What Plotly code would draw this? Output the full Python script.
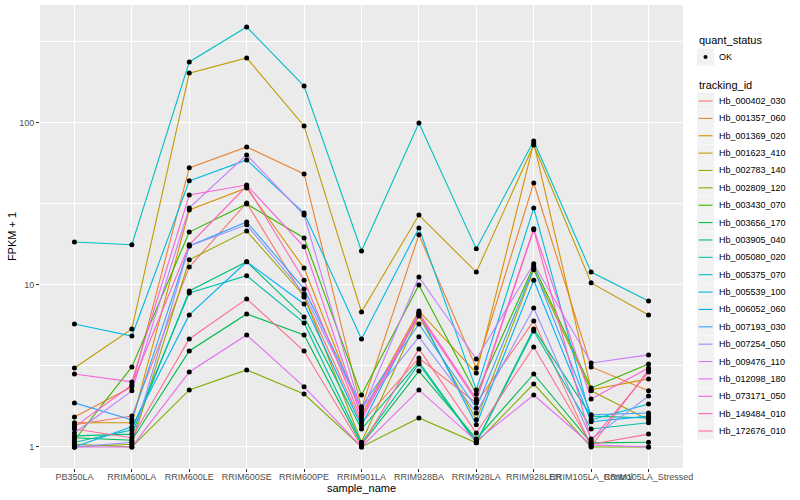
import plotly.graph_objects as go

samples = ["PB350LA", "RRIM600LA", "RRIM600LE", "RRIM600SE", "RRIM600PE", "RRIM901LA",
           "RRIM928BA", "RRIM928LA", "RRIM928LER", "RRIM105LA_Control", "RRIM105LA_Stressed"]

tracking_ids = ["Hb_000402_030", "Hb_001357_060", "Hb_001369_020", "Hb_001623_410", "Hb_002783_140",
                "Hb_002809_120", "Hb_003430_070", "Hb_003656_170", "Hb_003905_040", "Hb_005080_020",
                "Hb_005375_070", "Hb_005539_100", "Hb_006052_060", "Hb_007193_030", "Hb_007254_050",
                "Hb_009476_110", "Hb_012098_180", "Hb_073171_050", "Hb_149484_010", "Hb_172676_010"]

colors = ["#F8766D", "#EA8331", "#D89000", "#C09B00", "#A3A500", "#7CAE00", "#39B600", "#00BB4E",
          "#00BF7D", "#00C1A3", "#00BFC4", "#00BAE0", "#00B0F6", "#35A2FF", "#9590FF", "#C77CFF",
          "#E76BF3", "#FA62DB", "#FF62BC", "#FF6C91"]

# FPKM + 1 per tracking id, one value per sample
Hb_000402_030 = [1.37, 1.55, 12.9, 32.1, 8.43, 1.41, 3.54, 1.87, 6.00, 1.01, 2.99]
Hb_001357_060 = [1.53, 2.35, 52.8, 71.1, 48.4, 1.74, 20.4, 3.07, 42.6, 3.12, 2.22]
Hb_001369_020 = [1.41, 1.41, 29.0, 39.7, 12.7, 1.58, 6.91, 2.86, 75.2, 2.25, 2.63]
Hb_001623_410 = [3.07, 5.35, 203, 252, 95.8, 6.81, 27.0, 12.0, 73.1, 10.3, 6.53]
Hb_002783_140 = [1.00, 1.04, 14.3, 21.5, 8.55, 1.07, 6.44, 1.47, 12.4, 2.22, 1.47]
Hb_002809_120 = [1.04, 1.00, 2.25, 2.99, 2.12, 1.00, 1.51, 1.06, 2.45, 1.00, 1.00]
Hb_003430_070 = [1.10, 3.12, 21.2, 31.6, 19.5, 2.09, 10.0, 2.12, 13.1, 2.31, 3.25]
Hb_003656_170 = [1.14, 1.10, 3.91, 6.62, 4.91, 1.03, 2.94, 1.12, 2.82, 1.06, 1.07]
Hb_003905_040 = [1.17, 1.20, 9.18, 13.9, 6.35, 1.29, 3.35, 1.07, 5.35, 1.55, 1.51]
Hb_005080_020 = [1.07, 1.27, 8.92, 11.4, 5.83, 1.06, 3.25, 1.06, 5.20, 1.29, 1.41]
Hb_005375_070 = [18.4, 17.7, 238, 391, 169, 16.2, 100, 16.7, 77.4, 12.0, 7.97]
Hb_005539_100 = [5.74, 4.84, 43.9, 59.1, 27.8, 4.64, 22.5, 2.25, 29.9, 1.47, 1.84]
Hb_006052_060 = [1.00, 1.33, 6.53, 13.9, 7.63, 1.35, 6.72, 1.37, 10.7, 1.43, 1.55]
Hb_007193_030 = [1.87, 1.47, 17.4, 24.5, 9.45, 1.77, 5.74, 1.74, 12.7, 1.58, 1.62]
Hb_007254_050 = [1.00, 1.07, 17.4, 23.5, 8.80, 1.72, 4.78, 1.62, 7.21, 1.12, 2.06]
Hb_009476_110 = [1.22, 2.22, 29.9, 63.5, 27.0, 1.64, 11.2, 3.49, 13.5, 3.30, 3.70]
Hb_012098_180 = [1.00, 1.00, 2.90, 4.91, 2.35, 1.00, 2.25, 1.09, 2.09, 1.03, 1.00]
Hb_073171_050 = [2.82, 2.52, 35.9, 41.4, 17.2, 1.53, 6.72, 1.98, 22.2, 1.98, 3.07]
Hb_149484_010 = [1.33, 2.41, 17.7, 40.8, 10.7, 1.47, 6.53, 1.92, 21.9, 1.09, 2.90]
Hb_172676_010 = [1.29, 1.14, 4.64, 8.20, 3.91, 1.01, 4.03, 1.22, 4.14, 1.04, 1.20]

series = [Hb_000402_030, Hb_001357_060, Hb_001369_020, Hb_001623_410, Hb_002783_140,
          Hb_002809_120, Hb_003430_070, Hb_003656_170, Hb_003905_040, Hb_005080_020,
          Hb_005375_070, Hb_005539_100, Hb_006052_060, Hb_007193_030, Hb_007254_050,
          Hb_009476_110, Hb_012098_180, Hb_073171_050, Hb_149484_010, Hb_172676_010]

W, H = 800, 500
ML, MR, MT, MB = 40, 117, 5, 32
PW, PH = W - ML - MR, H - MT - MB


def px(x):
    return (x - ML) / PW


def py(y):
    return (H - MB - y) / PH


fig = go.Figure()
for name, vals, col in zip(tracking_ids, series, colors):
    fig.add_trace(go.Scatter(x=samples, y=vals, mode="lines", name=name,
                             line=dict(color=col, width=1.1), showlegend=False))

all_x = [s for vals in series for s in samples]
all_y = [v for vals in series for v in vals]
fig.add_trace(go.Scatter(x=all_x, y=all_y, mode="markers", name="OK",
                         marker=dict(color="black", size=5, symbol="circle"), showlegend=False))

# manual ggplot-style legends
shapes = []
annotations = []
annotations.append(dict(text="quant_status", x=px(697), y=py(40), xref="paper", yref="paper",
                        xanchor="left", yanchor="middle", showarrow=False,
                        font=dict(size=11, color="black")))
shapes.append(dict(type="rect", xref="paper", yref="paper", x0=px(697), x1=px(714),
                   y0=py(48.5), y1=py(65.5), fillcolor="#F2F2F2", line=dict(width=0), layer="below"))
shapes.append(dict(type="circle", xref="paper", yref="paper", x0=px(703.5), x1=px(707.5),
                   y0=py(55), y1=py(59), fillcolor="black", line=dict(width=0)))
annotations.append(dict(text="OK", x=px(717), y=py(57), xref="paper", yref="paper",
                        xanchor="left", yanchor="middle", showarrow=False,
                        font=dict(size=9, color="black")))
annotations.append(dict(text="tracking_id", x=px(697), y=py(85), xref="paper", yref="paper",
                        xanchor="left", yanchor="middle", showarrow=False,
                        font=dict(size=11, color="black")))
for i, (name, col) in enumerate(zip(tracking_ids, colors)):
    yc = 101 + i * 17.37
    shapes.append(dict(type="rect", xref="paper", yref="paper", x0=px(697), x1=px(714),
                       y0=py(yc - 8.5), y1=py(yc + 8.5), fillcolor="#F2F2F2",
                       line=dict(width=0), layer="below"))
    shapes.append(dict(type="line", xref="paper", yref="paper", x0=px(698.5), x1=px(712.5),
                       y0=py(yc), y1=py(yc), line=dict(color=col, width=1.1)))
    annotations.append(dict(text=name, x=px(717), y=py(yc), xref="paper", yref="paper",
                            xanchor="left", yanchor="middle", showarrow=False,
                            font=dict(size=9, color="black")))

fig.update_layout(
    width=W, height=H,
    margin=dict(l=ML, r=MR, t=MT, b=MB, autoexpand=False),
    paper_bgcolor="white", plot_bgcolor="#EBEBEB",
    font=dict(family="Liberation Sans, Arial, sans-serif", size=9, color="#4D4D4D"),
    showlegend=False,
    shapes=shapes, annotations=annotations,
)

fig.update_xaxes(type="category", categoryorder="array", categoryarray=samples,
                 range=[-0.6, 10.6], showgrid=True, gridcolor="white", gridwidth=1.1,
                 ticks="outside", ticklen=3, tickcolor="#333333", tickangle=0, automargin=False,
                 ticklabelstandoff=-3,
                 tickfont=dict(size=9, color="#4D4D4D"), zeroline=False, showline=False,
                 title=dict(text="sample_name", font=dict(size=11, color="black"), standoff=0))
fig.update_yaxes(type="log", range=[-0.13, 2.728], tickvals=[1, 10, 100], ticktext=["1", "10", "100"],
                 showgrid=True, gridcolor="white", gridwidth=1.1, automargin=False,
                 minor=dict(tickvals=[10 ** 0.5, 10 ** 1.5, 10 ** 2.5], showgrid=True,
                            gridcolor="white", gridwidth=0.5, ticklen=0),
                 ticks="outside", ticklen=3, tickcolor="#333333",
                 tickfont=dict(size=9, color="#4D4D4D"), zeroline=False, showline=False,
                 title=dict(text="FPKM + 1", font=dict(size=11, color="black"), standoff=0))

fig.write_html("out.html", config={"displayModeBar": False},
               post_script="document.body.style.margin='0px';")
